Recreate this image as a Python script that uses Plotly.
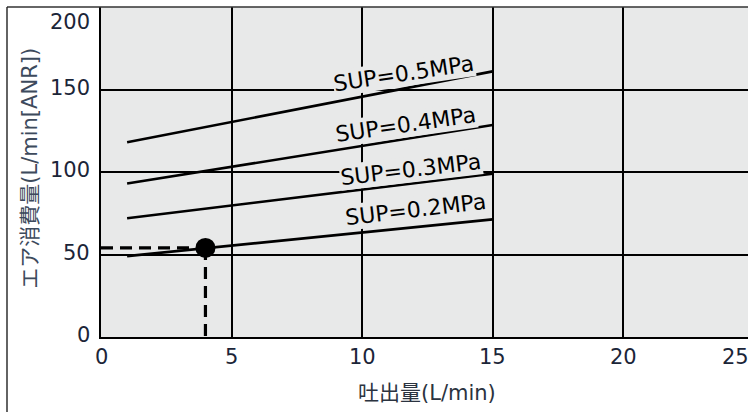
import plotly.graph_objects as go

# ---- data ----
flow = [1, 15]                       # 吐出量 (L/min)
sup_05 = [118, 161]
sup_04 = [93, 128.5]
sup_03 = [72, 99]
sup_02 = [49, 71.3]
series_names = ["SUP=0.5MPa", "SUP=0.4MPa", "SUP=0.3MPa", "SUP=0.2MPa"]
series_values = [sup_05, sup_04, sup_03, sup_02]

point_x = [4]
point_y = [54]

x_ticks = [0, 5, 10, 15, 20, 25]
y_ticks = [0, 50, 100, 150, 200]
x_title = "吐出量(L/min)"
y_title = "エア消費量(L/min[ANR])"

# ---- layout / style ----
XMAX = 24.78
YMAX = 200
BG = "#e8e9e9"
TXT = "#1b2538"
FONT = "DejaVu Sans, Noto Sans CJK JP, sans-serif"
label_pos = [(11.6, 159.4, -8.5), (11.68, 128.6, -8.2), (11.87, 101.6, -6.8), (12.06, 77.0, -6.8)]

fig = go.Figure()

for name, vals in zip(series_names, series_values):
    fig.add_trace(go.Scatter(x=flow, y=vals, mode="lines",
                             line=dict(color="black", width=2.6),
                             showlegend=False, hoverinfo="skip"))

# dashed guide lines
fig.add_trace(go.Scatter(x=[0, point_x[0]], y=[point_y[0], point_y[0]], mode="lines",
                         line=dict(color="black", width=3.2, dash="12px,7px"),
                         showlegend=False, hoverinfo="skip"))
fig.add_trace(go.Scatter(x=[point_x[0], point_x[0]], y=[point_y[0], 0], mode="lines",
                         line=dict(color="black", width=3.2, dash="12px,7px"),
                         showlegend=False, hoverinfo="skip"))
fig.add_trace(go.Scatter(x=point_x, y=point_y, mode="markers",
                         marker=dict(color="black", size=20),
                         showlegend=False, hoverinfo="skip"))

annotations = []
for name, (lx, ly, ang) in zip(series_names, label_pos):
    annotations.append(dict(x=lx, y=ly, xref="x", yref="y", text=name, showarrow=False,
                            textangle=ang, bgcolor=BG, borderpad=0,
                            font=dict(family=FONT, size=22, color="black")))

for v in x_ticks:
    annotations.append(dict(x=v / XMAX, y=0, xref="paper", yref="paper", text=str(v),
                            showarrow=False, xanchor="center", yanchor="middle",
                            yshift=-20, xshift=(-18 if v / XMAX > 1 else 0),
                            font=dict(family=FONT, size=21, color=TXT)))
for v in y_ticks:
    annotations.append(dict(x=0, y=v / YMAX, xref="paper", yref="paper", text=str(v),
                            showarrow=False, xanchor="right", yanchor="middle",
                            xshift=-9, yshift=(-15 if v == YMAX else 2),
                            font=dict(family=FONT, size=21, color=TXT)))

annotations.append(dict(x=(426.7 - 101) / 647, y=0, xref="paper", yref="paper", text=x_title,
                        showarrow=False, xanchor="center", yanchor="middle", yshift=-56,
                        font=dict(family=FONT, size=21, color="#2b3340")))
annotations.append(dict(x=0, y=0.51, xref="paper", yref="paper", text=y_title,
                        showarrow=False, xanchor="center", yanchor="middle", xshift=-71,
                        textangle=-90,
                        font=dict(family=FONT, size=21, color="#3d4a5c")))

fig.update_layout(
    width=748, height=412,
    margin=dict(l=101, r=0, t=7, b=75, pad=0),
    paper_bgcolor="white", plot_bgcolor=BG,
    annotations=annotations,
    shapes=[
        dict(type="line", xref="paper", yref="paper", x0=-94 / 647, x1=1.02, y0=1, y1=1,
             line=dict(color="#333333", width=1.6)),
        dict(type="line", xref="paper", yref="paper", x0=-94 / 647, x1=-94 / 647, y0=1, y1=-0.3,
             line=dict(color="#222222", width=1.4)),
    ],
    xaxis=dict(range=[0, XMAX], tickvals=[5, 10, 15, 20], showticklabels=False,
               showgrid=True, gridcolor="black", gridwidth=1.5, zeroline=False,
               showline=True, linecolor="black", linewidth=2, ticks=""),
    yaxis=dict(range=[0, YMAX], tickvals=[50, 100, 150], showticklabels=False,
               showgrid=True, gridcolor="black", gridwidth=1.5, zeroline=False,
               showline=True, linecolor="black", linewidth=1.6, ticks=""),
)

fig.write_html("out.html", config={"displayModeBar": False},
               post_script="document.body.style.margin='0px';document.body.style.overflow='hidden';")
